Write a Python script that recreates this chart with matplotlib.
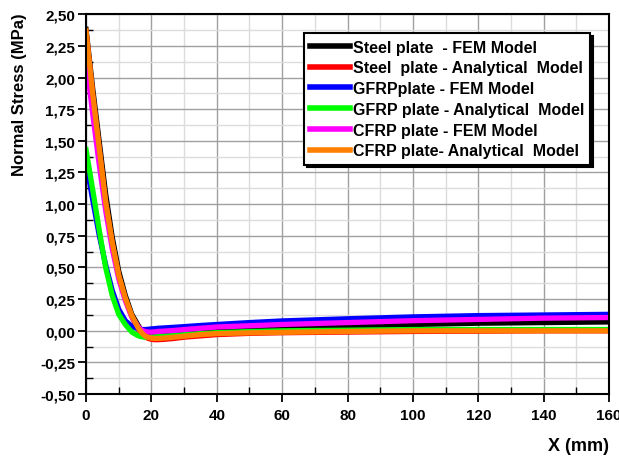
import numpy as np
import matplotlib
matplotlib.use("Agg")
import matplotlib.pyplot as plt
from matplotlib.ticker import MultipleLocator, FuncFormatter

plt.rcParams["font.family"] = ["Liberation Sans", "DejaVu Sans"]
plt.rcParams["font.weight"] = "bold"

# positions along the plate (mm)
x_mm = [0, 2, 4, 6, 8, 10, 12, 14, 16, 17, 18, 19, 20, 21, 22, 24, 27, 30, 35, 40,
        50, 60, 80, 100, 120, 140, 160]

# normal stress (MPa)
steel_fem = [2.38, 1.92, 1.50, 1.08, 0.74, 0.47, 0.28, 0.13, 0.04, 0.0, -0.015, -0.025, -0.03,
             -0.03, -0.03, -0.027, -0.022, -0.017, -0.008, 0.0, 0.008, 0.015, 0.03, 0.05,
             0.06, 0.065, 0.07]
steel_analytical = [2.36, 1.87, 1.44, 1.01, 0.69, 0.43, 0.25, 0.11, 0.01, -0.025, -0.045, -0.06,
                    -0.067, -0.07, -0.07, -0.067, -0.06, -0.05, -0.04, -0.03, -0.02, -0.015,
                    -0.01, -0.005, -0.003, 0.0, 0.0]
gfrp_fem = [1.33, 1.04, 0.76, 0.52, 0.32, 0.17, 0.08, 0.035, 0.015, 0.01, 0.01, 0.012, 0.015,
            0.017, 0.02, 0.023, 0.028, 0.033, 0.042, 0.05, 0.065, 0.078, 0.095, 0.11, 0.12,
            0.125, 0.13]
gfrp_analytical = [1.43, 1.12, 0.80, 0.50, 0.28, 0.13, 0.05, -0.01, -0.04, -0.047, -0.05, -0.05,
                   -0.05, -0.048, -0.045, -0.042, -0.037, -0.03, -0.022, -0.015, -0.006, 0.0,
                   0.005, 0.01, 0.01, 0.01, 0.01]
cfrp_fem = [2.15, 1.72, 1.32, 0.95, 0.65, 0.41, 0.24, 0.11, 0.03, 0.005, -0.005, -0.01, -0.01,
            -0.008, -0.005, -0.002, 0.003, 0.01, 0.02, 0.03, 0.04, 0.05, 0.065, 0.08, 0.09,
            0.10, 0.105]
cfrp_analytical = [2.37, 1.88, 1.45, 1.02, 0.70, 0.44, 0.26, 0.12, 0.02, -0.015, -0.04, -0.052,
                   -0.058, -0.06, -0.06, -0.057, -0.05, -0.042, -0.03, -0.022, -0.016, -0.012,
                   -0.005, 0.0, 0.0, 0.0, 0.0]

series = [
    ("Steel plate  - FEM Model", steel_fem, "#000000"),
    ("Steel  plate - Analytical  Model", steel_analytical, "#ff0000"),
    ("GFRPplate - FEM Model", gfrp_fem, "#0000ff"),
    ("GFRP plate - Analytical  Model", gfrp_analytical, "#00ff00"),
    ("CFRP plate - FEM Model", cfrp_fem, "#ff00ff"),
    ("CFRP plate- Analytical  Model", cfrp_analytical, "#ff8000"),
]

fig = plt.figure(figsize=(6.19, 4.60), dpi=100)
ax = fig.add_axes([0.139, 0.141, 0.845, 0.826])

for label, values, color in series:
    ax.plot(x_mm, values, color=color, lw=3.8, label=label, solid_joinstyle="round")

ax.set_xlim(0, 160)
ax.set_ylim(-0.5, 2.5)
ax.xaxis.set_major_locator(MultipleLocator(20))
ax.xaxis.set_minor_locator(MultipleLocator(10))
ax.yaxis.set_major_locator(MultipleLocator(0.25))
ax.yaxis.set_minor_locator(MultipleLocator(0.125))
ax.yaxis.set_major_formatter(FuncFormatter(lambda v, p: f"{v:.2f}".replace(".", ",")))

ax.grid(which="major", color="#a0a0a0", lw=1.0)
ax.grid(which="minor", color="#dcdcdc", lw=1.0)
ax.set_axisbelow(True)

ax.tick_params(which="major", direction="out", length=6, width=1.3, labelsize=11, pad=2)
ax.tick_params(axis="x", which="major", pad=4)
ax.tick_params(which="minor", direction="in", length=5, width=1.0)
for s in ax.spines.values():
    s.set_linewidth(1.5)

ax.set_ylabel("Normal Stress (MPa)", fontsize=12, fontweight="bold", loc="top")
ax.yaxis.set_label_coords(-0.113, 1.005)
ax.set_xlabel("X (mm)", fontsize=13, fontweight="bold", loc="right", labelpad=11)

leg = ax.legend(loc="upper right", bbox_to_anchor=(0.964, 0.95), fontsize=11.5,
                handlelength=2.5, labelspacing=0.36, handletextpad=0.15, borderpad=0.4,
                borderaxespad=0, fancybox=False, framealpha=1, edgecolor="black",
                shadow={"color": "black", "alpha": 1})
leg.get_frame().set_linewidth(1.5)
for line in leg.get_lines():
    line.set_linewidth(4.0)

fig.savefig("out.png", dpi=100)
